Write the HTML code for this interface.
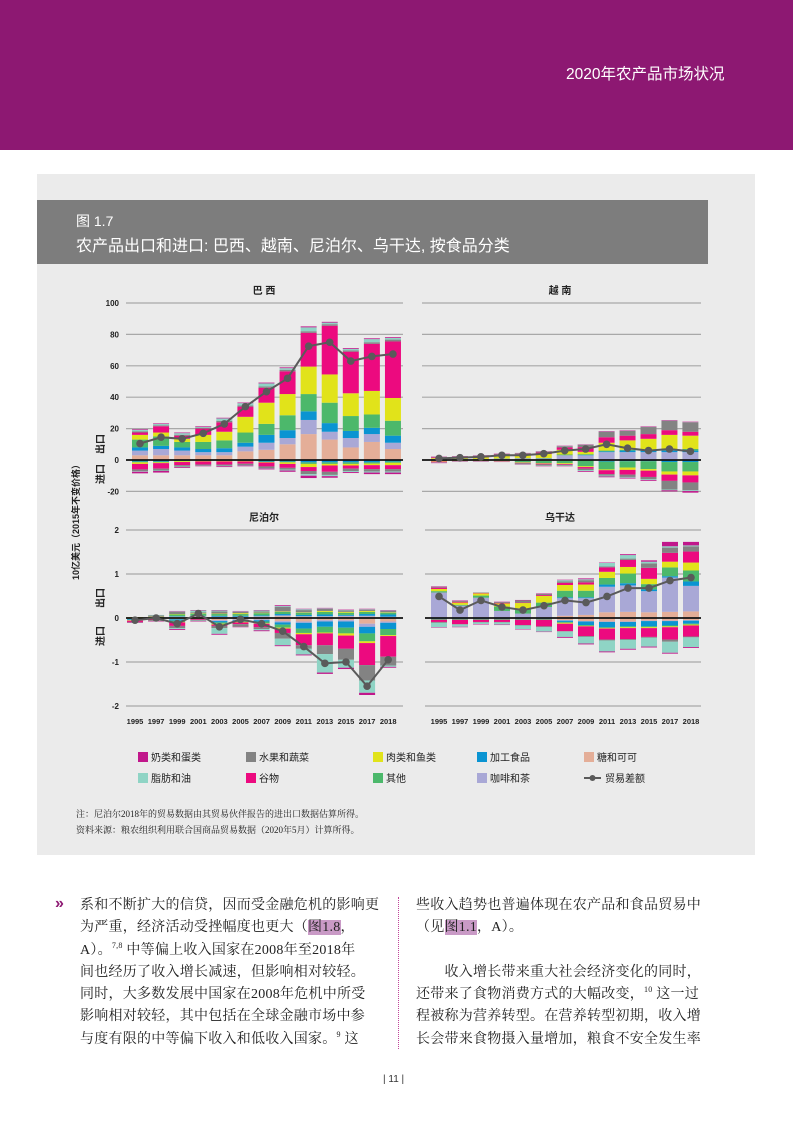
<!DOCTYPE html>
<html><head><meta charset="utf-8">
<style>
body{margin:0;width:793px;height:1122px;position:relative;background:#fff;font-family:"Liberation Sans","Noto Sans CJK SC",sans-serif;overflow:hidden}
.abs{position:absolute}
.body{font-family:"Liberation Serif","Noto Serif CJK SC",serif;font-size:14px;color:#222;white-space:nowrap;letter-spacing:0.25px}
.hl{background:#c99ac6}
sup{font-size:8px;vertical-align:baseline;position:relative;top:-6px;line-height:0}
</style></head><body>
<div class="abs" style="left:0;top:0;width:793px;height:150px;background:#8d1872"></div>
<div class="abs" style="left:566px;top:62px;color:#fff;font-size:15.5px">2020年农产品市场状况</div>
<div class="abs" style="left:37px;top:174px;width:718px;height:681px;background:#ebebeb"></div>
<div class="abs" style="left:37px;top:200px;width:671px;height:64px;background:#7d7d7d"></div>
<div class="abs" style="left:76px;top:211px;color:#fff;font-size:14px">图 1.7</div>
<div class="abs" style="left:76px;top:232px;color:#fff;font-size:16px;white-space:nowrap">农产品出口和进口: 巴西、越南、尼泊尔、乌干达, 按食品分类</div>

<svg class="abs" style="left:0;top:0" width="793" height="1122">
<g id="g"></g>
</svg>

<div class="abs" style="left:76px;top:807px;font-size:9px;color:#222;font-family:'Liberation Serif','Noto Serif CJK SC',serif">注：尼泊尔2018年的贸易数据由其贸易伙伴报告的进出口数据估算所得。</div>
<div class="abs" style="left:76px;top:823px;font-size:9px;color:#222;font-family:'Liberation Serif','Noto Serif CJK SC',serif">资料来源：粮农组织利用联合国商品贸易数据（2020年5月）计算所得。</div>

<div class="abs" style="left:55px;top:895px;color:#8d1872;font-size:16px;font-weight:bold">»</div>
<div class="abs body" style="left:80px;top:895px;line-height:22.3px">
系和不断扩大的信贷，因而受金融危机的影响更<br>
为严重，经济活动受挫幅度也更大（<span class="hl">图1.8</span>，<br>
A）。<sup>7,8</sup> 中等偏上收入国家在2008年至2018年<br>
间也经历了收入增长减速，但影响相对较轻。<br>
同时，大多数发展中国家在2008年危机中所受<br>
影响相对较轻，其中包括在全球金融市场中参<br>
与度有限的中等偏下收入和低收入国家。<sup>9</sup> 这</div>
<div class="abs" style="left:398px;top:897px;height:152px;border-left:1px dotted #c0459a"></div>
<div class="abs body" style="left:416px;top:895px;line-height:22.3px">
些收入趋势也普遍体现在农产品和食品贸易中<br>
（见<span class="hl">图1.1</span>，A）。<br><br>
　　收入增长带来重大社会经济变化的同时，<br>
还带来了食物消费方式的大幅改变，<sup>10</sup> 这一过<br>
程被称为营养转型。在营养转型初期，收入增<br>
长会带来食物摄入量增加，粮食不安全发生率</div>
<div class="abs" style="left:383px;top:1074px;font-size:10px;color:#333">| 11 |</div>

<script>
const years=["1995","1997","1999","2001","2003","2005","2007","2009","2011","2013","2015","2017","2018"];
const catKeys=["sugar","coffee","proc","other","meat","cereals","fruits","fats","dairy"];
const catNames=["糖和可可","咖啡和茶","加工食品","其他","肉类和鱼类","谷物","水果和蔬菜","脂肪和油","奶类和蛋类"];
const catColors=["#e4ae98","#a9a8d6","#0a94d2","#4cb86b","#e1e31a","#ec0a7f","#838383","#8fd4c5","#c1178b"];

// Brazil
const brExp_sugar=[3,3,3,3,3,5.5,6.5,10,16.5,13,8,11.5,7];
const brExp_coffee=[3,4,3,2,2,3,4.5,4,9,5,6,5,4];
const brExp_proc=[2,2,2,2,2.5,2.5,5,5,5.5,5.5,4.5,4,4.5];
const brExp_other=[5,6,3.5,4.5,5,6.5,7,9.5,11,13,9.5,8.5,9.5];
const brExp_meat=[3,2.5,2,4.5,5.5,10,13.5,13.5,17.5,18,14.5,15,14.5];
const brExp_cereals=[1.5,4,2,4,6,6.5,9.5,14.5,21.5,31,26.5,30,36];
const brExp_fruits=[0.8,0.6,0.6,0.6,1,0.7,0.8,1,1,1,0.8,1,1.2];
const brExp_fats=[1,0.8,1,0.5,1.5,1.5,2,1,2.5,1,1,2,1];
const brExp_dairy=[0.4,0.4,0.4,0.4,0.4,0.4,0.5,0.5,0.6,0.5,0.5,0.5,0.5];
const brImp_sugar=[0,0,0,0,0,0,0,0,0,0,0,0,0];
const brImp_coffee=[0,0,0,0,0,0,0,0,0,0,0,0,0];
const brImp_proc=[1,1,0.5,0.3,0.3,0.3,1,1,1.5,1.5,1.5,1.5,1];
const brImp_other=[0.5,0.5,0.3,0.3,0.3,0.3,0.3,0.5,1,1,1,0.8,0.8];
const brImp_meat=[1,0.5,0.5,0.3,0.3,0.3,0.3,1,2,1,1,1,1.5];
const brImp_cereals=[3.5,3.5,2,2,2,1.5,2.5,2.5,2.5,4,2,2.5,2.5];
const brImp_fruits=[1.2,1.2,1,0.6,0.8,0.8,1,1.2,2,2,1.5,1.5,1.5];
const brImp_fats=[0.3,0.3,0.3,0.2,0.3,0.3,0.3,0.5,1,0.8,0.7,0.7,0.7];
const brImp_dairy=[1,1,0.5,0.3,0.5,0.5,0.6,0.8,1.5,1,0.6,1,1];
const brBalance=[10.5,14.5,13.5,17,23,34,43.5,52,72.5,75,63,66,67.5];

// Vietnam
const vnExp_sugar=[0,0,0,0,0,0,0,0,0,0,0,0,0];
const vnExp_coffee=[0.5,0.5,0.5,0.8,1,1,3,3,5,5,5,5,5];
const vnExp_proc=[0,0,0,0,0,0,0,0.2,0.5,1,1,1,1];
const vnExp_other=[0.2,0.2,0.2,0.2,0.2,0.3,0.5,0.5,0.5,0.5,0.5,1,1];
const vnExp_meat=[0.5,0.8,1,2,2,2.5,3,1.5,5,6,7,9,8.5];
const vnExp_cereals=[0.5,0.5,0.8,0.5,0.5,1,1.5,3,3.5,3,3,3,2.5];
const vnExp_fruits=[0.2,0.2,0.2,0.3,0.5,0.5,0.8,1.5,3.5,3,4.5,6,6];
const vnExp_fats=[0.1,0.1,0.1,0.1,0.1,0.1,0.1,0.1,0.1,0.1,0.1,0.1,0.1];
const vnExp_dairy=[0.2,0.2,0.2,0.2,0.2,0.2,0.2,0.2,0.3,0.3,0.3,0.3,0.3];
const vnImp_sugar=[0.2,0,0,0,0.5,0.5,0.5,0,0.5,0.3,0.3,0.3,0.3];
const vnImp_coffee=[0,0,0,0,0,0,0,0,0,0,0,0,0];
const vnImp_proc=[0,0,0,0,0,0,0,0,0.5,0.5,0.5,1,1];
const vnImp_other=[0.5,0.3,0.3,0.5,1,1.5,1.5,4,5,4,5,6,6];
const vnImp_meat=[0.3,0.3,0.3,0.3,0.3,0.3,0.5,0.5,0.5,1.5,1,2,2.5];
const vnImp_cereals=[0.5,0.2,0.2,0.2,0.3,0.5,0.5,1,2.5,3,4,4,4.5];
const vnImp_fruits=[0.2,0.1,0.1,0.1,0.5,0.8,0.5,1,1,1.5,1.5,5.5,5];
const vnImp_fats=[0.1,0.1,0.1,0.1,0.2,0.2,0.3,0.5,0.5,0.5,0.5,0.5,0.5];
const vnImp_dairy=[0.2,0.1,0.1,0.1,0.2,0.2,0.2,0.5,0.5,0.5,0.5,0.7,1];
const vnBalance=[1,1.5,2,3,3,4,6,7,10,7.5,6,7,5.5];

// Niger
const neExp_sugar=[0,0,0.02,0.03,0.02,0.02,0.03,0.04,0.03,0.03,0.03,0.03,0.02];
const neExp_coffee=[0,0,0.01,0.01,0.01,0.01,0.01,0.02,0.01,0.01,0.02,0.02,0.01];
const neExp_proc=[0,0,0.01,0.01,0.02,0.02,0.02,0.03,0.03,0.04,0.02,0.04,0.05];
const neExp_other=[0.01,0.02,0.04,0.05,0.04,0.04,0.05,0.05,0.05,0.06,0.05,0.05,0.04];
const neExp_meat=[0.01,0.01,0.01,0.01,0.01,0.02,0.01,0.01,0.01,0.02,0.02,0.02,0.01];
const neExp_cereals=[0,0,0,0,0,0,0,0,0,0,0,0,0];
const neExp_fruits=[0,0.03,0.05,0.02,0.05,0.03,0.03,0.1,0.05,0.05,0.03,0.03,0.03];
const neExp_fats=[0,0.01,0.01,0.04,0.02,0.01,0.02,0.02,0.02,0.01,0.01,0.01,0.01];
const neExp_dairy=[0,0,0.01,0.01,0.01,0.01,0.01,0.02,0.01,0.01,0.01,0.01,0.01];
const neImp_sugar=[0.02,0,0.03,0,0.05,0.03,0.03,0.07,0.08,0.05,0.05,0.13,0.08];
const neImp_coffee=[0,0,0,0,0.02,0.02,0.02,0.03,0.03,0.03,0.03,0.07,0.03];
const neImp_proc=[0.02,0.01,0.03,0,0.03,0.02,0.03,0.05,0.13,0.12,0.14,0.15,0.14];
const neImp_other=[0.01,0.01,0.03,0.01,0.03,0.02,0.04,0.07,0.1,0.13,0.13,0.18,0.14];
const neImp_meat=[0.01,0.01,0.01,0.01,0.02,0.01,0.01,0.02,0.03,0.02,0.05,0.04,0.02];
const neImp_cereals=[0.03,0.02,0.08,0.02,0.03,0.04,0.08,0.1,0.25,0.27,0.3,0.5,0.47];
const neImp_fruits=[0.01,0.02,0.05,0.02,0.05,0.06,0.04,0.13,0.08,0.2,0.25,0.35,0.2];
const neImp_fats=[0,0,0.02,0.01,0.13,0,0.03,0.15,0.13,0.42,0.18,0.28,0.03];
const neImp_dairy=[0.01,0.01,0.02,0.01,0.02,0.01,0.02,0.02,0.02,0.03,0.03,0.05,0.02];
const neBalance=[-0.05,0,-0.13,0.1,-0.2,-0.03,-0.13,-0.3,-0.65,-1.03,-1,-1.55,-0.95];

// Uganda
const ugExp_sugar=[0,0,0,0,0,0,0.05,0.07,0.13,0.14,0.13,0.14,0.15];
const ugExp_coffee=[0.58,0.28,0.46,0.16,0.1,0.25,0.4,0.38,0.58,0.6,0.48,0.78,0.58];
const ugExp_proc=[0,0,0,0,0,0,0.02,0.02,0.05,0.05,0.04,0.03,0.1];
const ugExp_other=[0.03,0.02,0.05,0.1,0.12,0.1,0.15,0.15,0.15,0.22,0.12,0.2,0.25];
const ugExp_meat=[0.05,0.05,0.05,0.07,0.12,0.15,0.13,0.14,0.14,0.15,0.12,0.13,0.18];
const ugExp_cereals=[0.03,0.02,0.01,0.01,0.01,0.02,0.05,0.05,0.1,0.16,0.25,0.2,0.25];
const ugExp_fruits=[0.02,0.02,0.01,0.02,0.05,0.03,0.03,0.05,0.02,0.03,0.1,0.12,0.12];
const ugExp_fats=[0,0,0,0,0,0,0.03,0.02,0.08,0.08,0.04,0.03,0.02];
const ugExp_dairy=[0.01,0.01,0,0.01,0.01,0.01,0.01,0.02,0.01,0.02,0.03,0.1,0.08];
const ugImp_sugar=[0.01,0.01,0.01,0.01,0.01,0.01,0.05,0.07,0.08,0.08,0.06,0.06,0.05];
const ugImp_coffee=[0,0,0,0,0,0,0.01,0.01,0.01,0.01,0.01,0.01,0.01];
const ugImp_proc=[0.01,0.01,0.01,0.01,0.01,0.01,0.03,0.08,0.12,0.1,0.12,0.1,0.07];
const ugImp_other=[0.02,0.02,0.02,0.02,0.02,0.02,0.02,0.02,0.02,0.02,0.02,0.02,0.02];
const ugImp_meat=[0,0,0,0,0,0,0.02,0.01,0.01,0.02,0.02,0.02,0.02];
const ugImp_cereals=[0.05,0.1,0.05,0.05,0.12,0.15,0.17,0.22,0.25,0.25,0.2,0.28,0.25];
const ugImp_fruits=[0.02,0.01,0.01,0.01,0.01,0.02,0.01,0.02,0.02,0.02,0.02,0.05,0.02];
const ugImp_fats=[0.1,0.05,0.04,0.05,0.08,0.1,0.12,0.15,0.25,0.2,0.2,0.25,0.22];
const ugImp_dairy=[0.01,0.01,0.01,0.01,0.01,0.01,0.02,0.02,0.02,0.02,0.02,0.02,0.02];
const ugBalance=[0.49,0.18,0.4,0.25,0.18,0.28,0.4,0.35,0.49,0.68,0.68,0.85,0.92];

const brTicks=[100,80,60,40,20,0,-20];
const neTicks=[2,1,0,-1,-2];

const NS="http://www.w3.org/2000/svg";
const G=document.getElementById('g');
function mk(tag,attrs,parent){const e=document.createElementNS(NS,tag);for(const k in attrs)e.setAttribute(k,attrs[k]);(parent||G).appendChild(e);return e;}

const panels=[
 {name:"brazil",title:"巴 西",titleX:264,exp:[brExp_sugar,brExp_coffee,brExp_proc,brExp_other,brExp_meat,brExp_cereals,brExp_fruits,brExp_fats,brExp_dairy],
  imp:[brImp_sugar,brImp_coffee,brImp_proc,brImp_other,brImp_meat,brImp_cereals,brImp_fruits,brImp_fats,brImp_dairy],bal:brBalance,
  zeroY:460,pxPer:1.57,ticks:brTicks,showTicks:true,gx0:126,gx1:403,x0:140,step:21.08,showYears:false,titleY:294},
 {name:"vietnam",title:"越 南",titleX:560,exp:[vnExp_sugar,vnExp_coffee,vnExp_proc,vnExp_other,vnExp_meat,vnExp_cereals,vnExp_fruits,vnExp_fats,vnExp_dairy],
  imp:[vnImp_sugar,vnImp_coffee,vnImp_proc,vnImp_other,vnImp_meat,vnImp_cereals,vnImp_fruits,vnImp_fats,vnImp_dairy],bal:vnBalance,
  zeroY:460,pxPer:1.57,ticks:brTicks,showTicks:false,gx0:422,gx1:701,x0:439,step:20.95,showYears:false,titleY:294},
 {name:"niger",title:"尼泊尔",titleX:264,exp:[neExp_sugar,neExp_coffee,neExp_proc,neExp_other,neExp_meat,neExp_cereals,neExp_fruits,neExp_fats,neExp_dairy],
  imp:[neImp_sugar,neImp_coffee,neImp_proc,neImp_other,neImp_meat,neImp_cereals,neImp_fruits,neImp_fats,neImp_dairy],bal:neBalance,
  zeroY:618,pxPer:44,ticks:neTicks,showTicks:true,gx0:126,gx1:403,x0:135,step:21.1,showYears:true,titleY:521},
 {name:"uganda",title:"乌干达",titleX:560,exp:[ugExp_sugar,ugExp_coffee,ugExp_proc,ugExp_other,ugExp_meat,ugExp_cereals,ugExp_fruits,ugExp_fats,ugExp_dairy],
  imp:[ugImp_sugar,ugImp_coffee,ugImp_proc,ugImp_other,ugImp_meat,ugImp_cereals,ugImp_fruits,ugImp_fats,ugImp_dairy],bal:ugBalance,
  zeroY:618,pxPer:44,ticks:neTicks,showTicks:false,gx0:425,gx1:701,x0:439,step:21,showYears:true,titleY:521}
];

panels.forEach(p=>{
  const pg=mk('g',{});
  
  
  const yS=v=>p.zeroY-v*p.pxPer;
  const xS=i=>p.x0+i*p.step;
  const t=mk('text',{x:p.titleX,y:p.titleY,'text-anchor':'middle','font-size':10,'font-weight':'bold',fill:'#222'},pg);
  t.textContent=p.title;
  
  
  p.ticks.forEach(tv=>{
    if(tv!==0){
      const gl=mk('line',{x1:p.gx0,x2:p.gx1,y1:yS(tv),y2:yS(tv),stroke:'#a8a8a8','stroke-width':1.2},pg);
      
      
    }
    if(p.showTicks){
      const tl=mk('text',{x:119,y:yS(tv)+3,'text-anchor':'end','font-size':8,'font-weight':'bold',fill:'#222'},pg);
      tl.textContent=tv;
      
      
    }
  });
  for(let i=0;i<years.length;i++){
    let up=0,dn=0;
    for(let c=0;c<catKeys.length;c++){
      const ev=p.exp[c][i];
      if(ev>0){
        const r=mk('rect',{x:xS(i)-8,y:yS(up+ev),width:16,height:ev*p.pxPer,fill:catColors[c]},pg);
        
        
        up+=ev;
      }
      const iv=p.imp[c][i];
      if(iv>0){
        const r=mk('rect',{x:xS(i)-8,y:yS(-dn),width:16,height:iv*p.pxPer,fill:catColors[c]},pg);
        
        
        dn+=iv;
      }
    }
    if(p.showYears){
      const yl=mk('text',{x:xS(i),y:724,'text-anchor':'middle','font-size':7.5,'font-weight':'bold',fill:'#222'},pg);
      yl.textContent=years[i];
      
      
    }
  }
  const z=mk('line',{x1:p.gx0,x2:p.gx1,y1:p.zeroY,y2:p.zeroY,stroke:'#111','stroke-width':1.8},pg);
  
  
  const pts=p.bal.map((v,i)=>xS(i)+','+yS(v)).join(' ');
  const pl=mk('polyline',{points:pts,fill:'none',stroke:'#5a5a5a','stroke-width':2},pg);
  
  
  p.bal.forEach((v,i)=>{
    const c=mk('circle',{cx:xS(i),cy:yS(v),r:3.8,fill:'#5a5a5a'},pg);
    
    
  });
});

function vlabel(txt,x,y,name,size){
  const t=mk('text',{x:x,y:y,'text-anchor':'middle','font-size':size,'font-weight':'bold',fill:'#222',transform:'rotate(-90 '+x+' '+y+')'});
  t.textContent=txt;
  
  
}
vlabel('10亿美元（2015年不变价格）',79,520,'y-axis-title',9);
vlabel('出口',104,444,'export-label',10);
vlabel('进口',104,474,'import-label',10);
vlabel('出口',104,598,'export-label',10);
vlabel('进口',104,636,'import-label',10);

const legendOrder=[8,6,4,2,0,7,5,3,1];
const legX=[138,246,373,477,584];
legendOrder.forEach((c,k)=>{
  const x=legX[k%5], y=k<5?752:773;
  const r=mk('rect',{x:x,y:y,width:10,height:10,fill:catColors[c]});
  
  
  const t=mk('text',{x:x+13,y:y+9,'font-size':10,fill:'#222'});
  t.textContent=catNames[c];
  
  
});
const ll=mk('line',{x1:584,x2:601,y1:778,y2:778,stroke:'#5a5a5a','stroke-width':2});


const lc=mk('circle',{cx:592.5,cy:778,r:3,fill:'#5a5a5a'});


const lt=mk('text',{x:605,y:782,'font-size':10,fill:'#222'});
lt.textContent='贸易差额';


</script>
</body></html>
